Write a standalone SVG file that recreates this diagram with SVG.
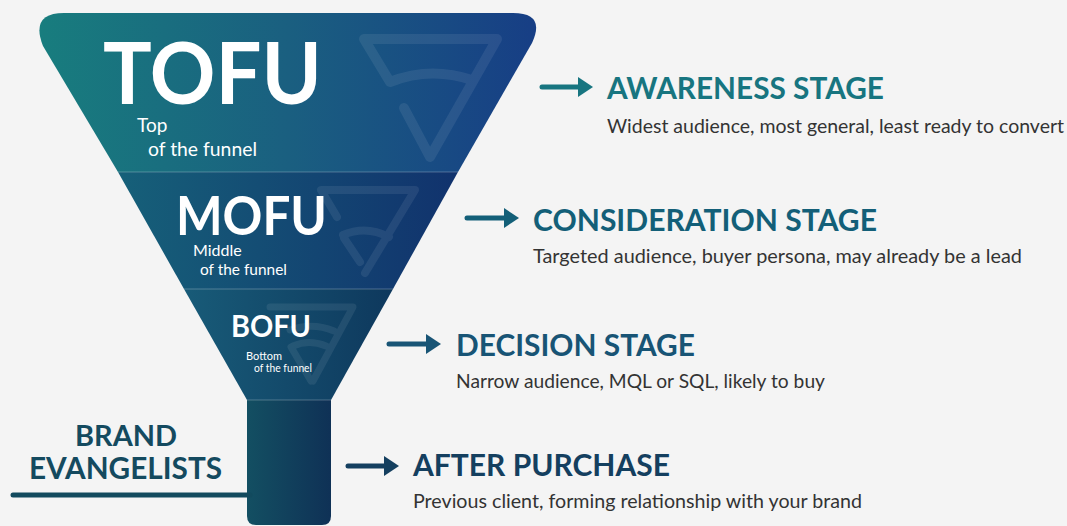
<svg xmlns="http://www.w3.org/2000/svg" width="1067" height="526" viewBox="0 0 1067 526">
<defs>
<linearGradient id="gTofu" x1="0" y1="0" x2="1" y2="0">
<stop offset="0" stop-color="#187d7e"/><stop offset="0.5" stop-color="#1a5f80"/><stop offset="1" stop-color="#173e85"/>
</linearGradient>
<linearGradient id="gMofu" x1="0" y1="0" x2="1" y2="0">
<stop offset="0" stop-color="#166079"/><stop offset="1" stop-color="#11326d"/>
</linearGradient>
<linearGradient id="gBofu" x1="0" y1="0" x2="1" y2="0">
<stop offset="0" stop-color="#185b78"/><stop offset="1" stop-color="#0e385d"/>
</linearGradient>
<linearGradient id="gStem" x1="0" y1="0" x2="1" y2="0">
<stop offset="0" stop-color="#134f62"/><stop offset="1" stop-color="#0f3156"/>
</linearGradient>
</defs>
<style>
.bg{fill:#f4f4f4}
.wm{fill:none;stroke:#ffffff;stroke-opacity:0.08;stroke-linecap:round;stroke-linejoin:round}
.sep{stroke:#ffffff;stroke-opacity:0.25;stroke-width:1}
.big{font-family:Lato,"Liberation Sans",sans-serif;font-weight:700;fill:#ffffff}
.sub{font-family:Lato,"Liberation Sans",sans-serif;font-weight:400;fill:#ffffff}
.head{font-family:Lato,"Liberation Sans",sans-serif;font-weight:700;font-size:31px}
.desc{font-family:Lato,"Liberation Sans",sans-serif;font-weight:400;font-size:19px;fill:#333333}
.arr{stroke-width:5;stroke-linecap:round;fill:none}
</style>
<rect class="bg" x="0" y="0" width="1067" height="526"/>

<g id="tofu">
<path d="M 64,13 H 513 Q 546,13 532,43 L 458,172 H 118 L 43,46 Q 30,13 64,13 Z" fill="url(#gTofu)"/>
<path class="wm" stroke-width="10" d="M 390,82 L 364,39 H 497 L 430,157 L 404,108 M 390,82 Q 430,66 472,80"/>
<text class="big" x="103" y="104" font-size="87" textLength="219" lengthAdjust="spacingAndGlyphs">TOFU</text>
<text class="sub" x="137" y="132" font-size="19">Top</text>
<text class="sub" x="148" y="156" font-size="19" textLength="109" lengthAdjust="spacingAndGlyphs">of the funnel</text>
</g>

<g id="mofu">
<path d="M 118,172 H 458 L 393,289 H 184 Z" fill="url(#gMofu)"/>
<path class="wm" stroke-width="8" d="M 337,217 L 321,190 H 415 L 365,273 M 343,235 Q 366,225 389,237 M 344,238 L 360,262"/>
<text class="big" x="176" y="235" font-size="53" textLength="151" lengthAdjust="spacingAndGlyphs">MOFU</text>
<text class="sub" x="193" y="256" font-size="16">Middle</text>
<text class="sub" x="200" y="275" font-size="16" textLength="87" lengthAdjust="spacingAndGlyphs">of the funnel</text>
</g>

<g id="bofu">
<path d="M 184,289 H 393 L 331,400 H 247 Z" fill="url(#gBofu)"/>
<path class="wm" stroke-width="7" d="M 270,307 H 353 L 313,381 M 290,330 Q 312,322 334,331 M 293,346 Q 309,339 326,346 M 291,347 L 311,381"/>
<text class="big" x="231" y="337" font-size="30" textLength="80" lengthAdjust="spacingAndGlyphs">BOFU</text>
<text class="sub" x="246" y="360" font-size="11">Bottom</text>
<text class="sub" x="254" y="372" font-size="11" textLength="58" lengthAdjust="spacingAndGlyphs">of the funnel</text>
</g>

<g id="stem">
<path d="M 247,400 H 331 V 516 Q 331,525 322,525 H 256 Q 247,525 247,516 Z" fill="url(#gStem)"/>
</g>

<g id="separators">
<line class="sep" x1="118" y1="172" x2="458" y2="172"/>
<line class="sep" x1="184" y1="289" x2="393" y2="289"/>
<line class="sep" x1="247" y1="400" x2="331" y2="400"/>
</g>

<g id="brand">
<text class="head" x="126" y="446" font-size="29" text-anchor="middle" fill="#144a5f" style="font-size:29px" textLength="102" lengthAdjust="spacingAndGlyphs">BRAND</text>
<text class="head" x="29" y="479" style="font-size:30px" fill="#144a5f" textLength="193" lengthAdjust="spacingAndGlyphs">EVANGELISTS</text>
</g>

<g id="connectors">
<line class="arr" x1="13" y1="495" x2="250" y2="495" stroke="#124a5e" stroke-width="6"/>
<line class="arr" x1="542" y1="87" x2="580" y2="87" stroke="#177580"/>
<polygon points="578,77 593,87 578,97" fill="#177580"/>
<line class="arr" x1="467" y1="218" x2="506" y2="218" stroke="#135f78"/>
<polygon points="504,208 519,218 504,228" fill="#135f78"/>
<line class="arr" x1="389" y1="344" x2="428" y2="344" stroke="#185475"/>
<polygon points="426,334 441,344 426,354" fill="#185475"/>
<line class="arr" x1="348" y1="466" x2="386" y2="466" stroke="#143f5f"/>
<polygon points="384,456 399,466 384,476" fill="#143f5f"/>
</g>

<g id="awareness">
<text class="head" x="607" y="99" fill="#177580" textLength="277" lengthAdjust="spacingAndGlyphs">AWARENESS STAGE</text>
<text class="desc" x="607" y="133" textLength="457" lengthAdjust="spacingAndGlyphs">Widest audience, most general, least ready to convert</text>
</g>
<g id="consideration">
<text class="head" x="533" y="231" fill="#135f78" textLength="344" lengthAdjust="spacingAndGlyphs">CONSIDERATION STAGE</text>
<text class="desc" x="533" y="263" textLength="489" lengthAdjust="spacingAndGlyphs">Targeted audience, buyer persona, may already be a lead</text>
</g>
<g id="decision">
<text class="head" x="456" y="356" fill="#185475" textLength="239" lengthAdjust="spacingAndGlyphs">DECISION STAGE</text>
<text class="desc" x="456" y="388" textLength="369" lengthAdjust="spacingAndGlyphs">Narrow audience, MQL or SQL, likely to buy</text>
</g>
<g id="after">
<text class="head" x="413" y="476" fill="#143f5f" textLength="257" lengthAdjust="spacingAndGlyphs">AFTER PURCHASE</text>
<text class="desc" x="413" y="508" textLength="449" lengthAdjust="spacingAndGlyphs">Previous client, forming relationship with your brand</text>
</g>
</svg>
